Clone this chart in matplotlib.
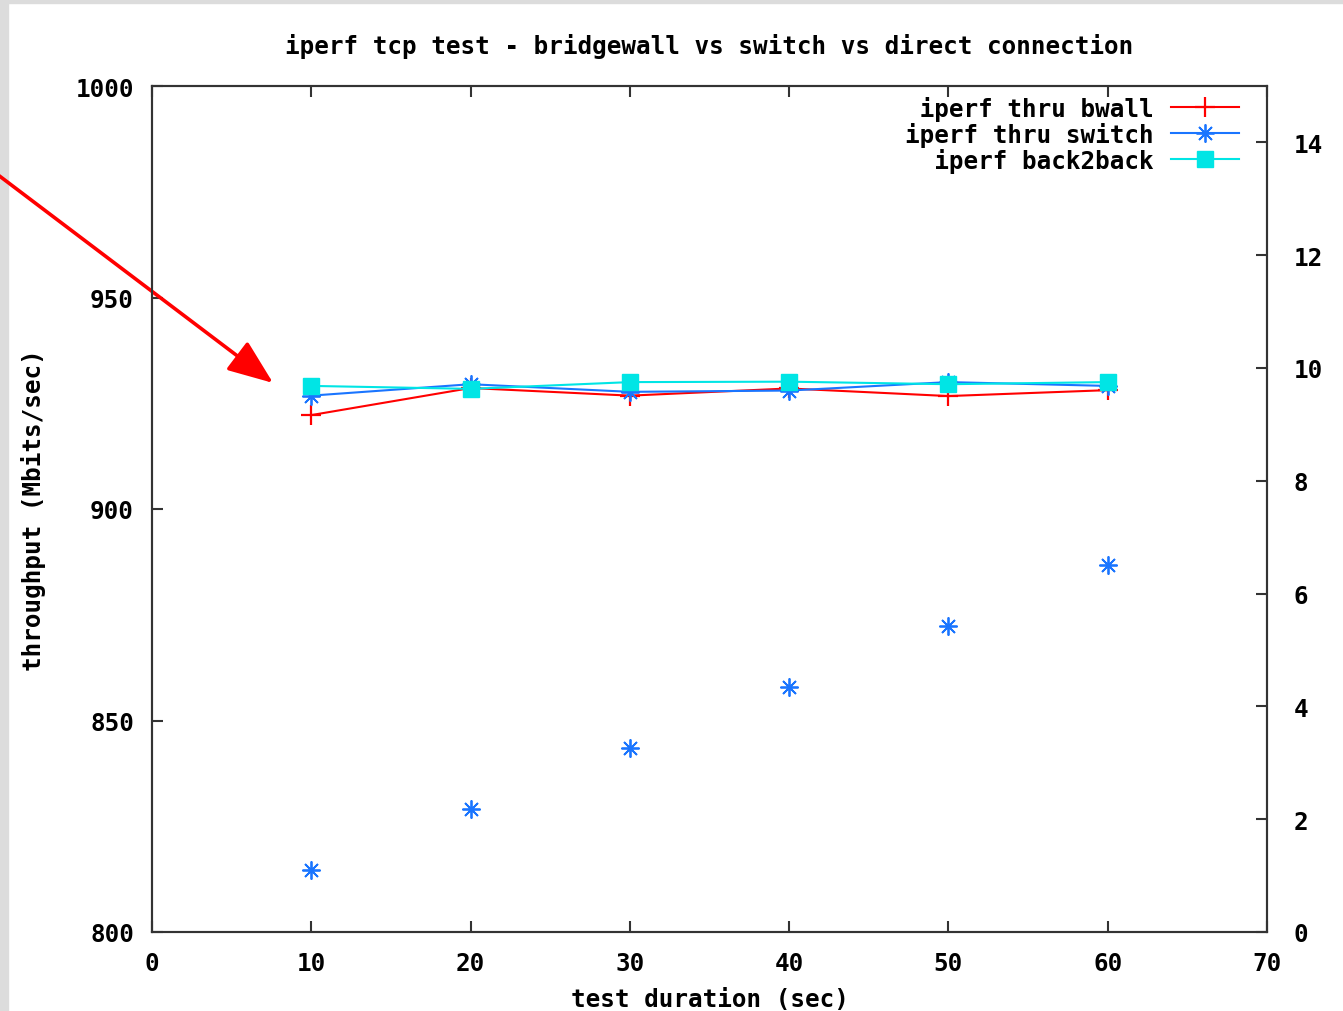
import matplotlib
matplotlib.use('Agg')
import matplotlib.pyplot as plt
from matplotlib.patches import Rectangle

# test durations (sec)
durations = [10, 20, 30, 40, 50, 60]
# throughput (Mbits/sec)
bwall = [922.2, 928.6, 926.8, 928.5, 926.7, 928.1]
switch = [926.8, 929.5, 927.7, 928.0, 930.0, 929.1]
back2back = [929.1, 928.4, 930.0, 930.1, 929.5, 930.0]
# extra switch points drawn without line
switch_pts = [814.7, 829.1, 843.5, 857.9, 872.3, 886.8]

labels = [' iperf thru bwall', 'iperf thru switch', '  iperf back2back']
title = 'iperf tcp test - bridgewall vs switch vs direct connection'

RED = '#ff0000'
BLUE = '#1a75ff'
CYAN = '#00e5e5'
FONT = 'DejaVu Sans Mono'
FS = 17.5

plt.rcParams['font.family'] = FONT
plt.rcParams['font.weight'] = 'bold'

fig = plt.figure(figsize=(13.43, 10.12), dpi=100)
# gray frame strips at left and top (behind everything)
fig.patches.append(Rectangle((0, 0), 8 / 1343, 1, transform=fig.transFigure, color='#dcdcdc', zorder=-10))
fig.patches.append(Rectangle((0, 1 - 4 / 1012), 1, 4 / 1012, transform=fig.transFigure, color='#dcdcdc', zorder=-10))

ax = fig.add_axes([152 / 1343, 79 / 1012, (1267 - 152) / 1343, (933 - 87) / 1012])
ax2 = ax.twinx()
ax.patch.set_alpha(0)

ax.plot(durations, bwall, color=RED, lw=1.5, marker='+', ms=14, mew=1.6, label=labels[0])
ax.plot(durations, switch, color=BLUE, lw=1.5, marker=(8, 2, 0), ms=13, mew=1.3, label=labels[1])
ax.plot(durations, back2back, color=CYAN, lw=1.5, marker='s', ms=11, mec=CYAN, label=labels[2])
ax.plot(durations, switch_pts, ls='none', color=BLUE, marker=(8, 2, 0), ms=13, mew=1.3)

ax.set_xlim(0, 70)
ax.set_ylim(800, 1000)
ax2.set_ylim(0, 15)
ax.set_xticks(range(0, 71, 10))
ax.set_yticks(range(800, 1001, 50))
ax2.set_yticks(range(0, 15, 2))

for a in (ax, ax2):
    for s in a.spines.values():
        s.set_color('#333333')
        s.set_linewidth(1.5)
ax.tick_params(axis='x', direction='in', length=8, width=1.5, color='#333333',
               top=True, labelsize=FS, pad=14)
ax.tick_params(axis='y', direction='in', length=8, width=1.5, color='#333333',
               right=False, labelsize=FS, pad=13)
ax2.tick_params(axis='y', direction='in', length=8, width=1.5, color='#333333',
                labelsize=FS, pad=19)

ax.set_title(title, fontsize=FS, fontweight='bold', pad=24)
ax.set_xlabel('test duration (sec)', fontsize=FS, fontweight='bold', labelpad=8)
ax.set_ylabel('throughput (Mbits/sec)', fontsize=FS, fontweight='bold')
ax.yaxis.set_label_coords(-0.095, 0.5)

leg = ax.legend(loc='upper right', bbox_to_anchor=(0.988, 1.006), frameon=False,
                markerfirst=False, handlelength=2.8, handletextpad=0.7,
                labelspacing=0.05, borderaxespad=0.2,
                prop={'family': FONT, 'weight': 'bold', 'size': FS})

# red arrow pointing at the start of the curves
ax.annotate('', xy=(7.6, 929.8), xytext=(-10.2, 980.5), xycoords='data',
            annotation_clip=False,
            arrowprops=dict(arrowstyle='-|>,head_length=2.8,head_width=1.1',
                            color=RED, lw=2.6, shrinkA=0, shrinkB=0))

fig.savefig('out.png', dpi=100)
